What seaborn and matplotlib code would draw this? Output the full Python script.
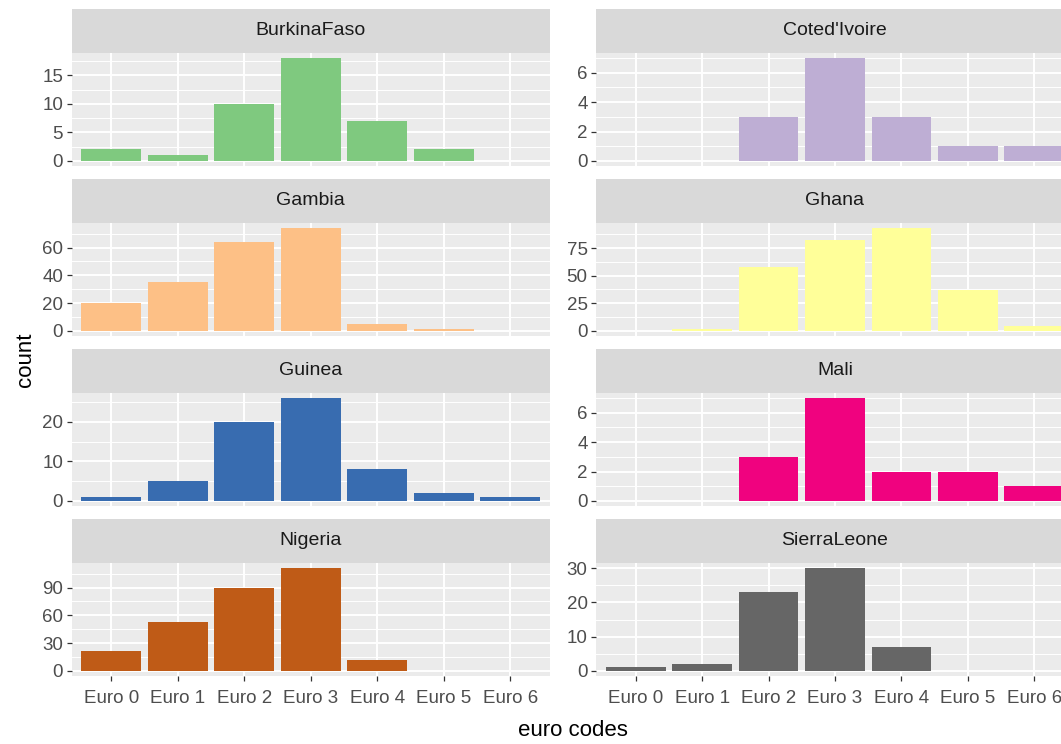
import numpy as np
import pandas as pd
import matplotlib
matplotlib.use("Agg")
import matplotlib.pyplot as plt
from matplotlib.ticker import FixedLocator
import seaborn as sns

# Counts of vehicles per euro emission code, by country
codes = ["Euro 0", "Euro 1", "Euro 2", "Euro 3", "Euro 4", "Euro 5", "Euro 6"]
countries = ["BurkinaFaso", "Coted'Ivoire", "Gambia", "Ghana",
             "Guinea", "Mali", "Nigeria", "SierraLeone"]

burkina_faso = [2, 1, 10, 18, 7, 2, 0]
cote_divoire = [0, 0, 3, 7, 3, 1, 1]
gambia = [20, 35, 64, 74, 5, 1, 0]
ghana = [0, 2, 58, 82, 93, 37, 4]
guinea = [1, 5, 20, 26, 8, 2, 1]
mali = [0, 0, 3, 7, 2, 2, 1]
nigeria = [21, 53, 90, 111, 12, 0, 0]
sierra_leone = [1, 2, 23, 30, 7, 0, 0]

series = [burkina_faso, cote_divoire, gambia, ghana,
          guinea, mali, nigeria, sierra_leone]

# y breaks per facet (free scales)
major_breaks = [
    [0, 5, 10, 15],
    [0, 2, 4, 6],
    [0, 20, 40, 60],
    [0, 25, 50, 75],
    [0, 10, 20],
    [0, 2, 4, 6],
    [0, 30, 60, 90],
    [0, 10, 20, 30],
]

df = pd.DataFrame({
    "country": np.repeat(countries, len(codes)),
    "code": codes * len(countries),
    "count": np.concatenate(series),
})

palette = sns.color_palette("Accent", len(countries))

plt.rcParams["font.family"] = ["Liberation Sans", "DejaVu Sans"]

W, H = 1061, 744
fig = plt.figure(figsize=(W / 100, H / 100), dpi=100)

PANEL_BG = "#EBEBEB"
STRIP_BG = "#D9D9D9"
TICK_TXT = "#4D4D4D"
TICK_LINE = "#333333"

# panel columns in pixels; the right column runs past the figure edge
col_x = [(71.5, 550.0), (596.0, 1074.0)]


def px_rect(x0, y0, x1, y1):
    return [x0 / W, 1 - y1 / H, (x1 - x0) / W, (y1 - y0) / H]


for i, country in enumerate(countries):
    r, c = divmod(i, 2)
    x0, x1 = col_x[c]
    strip_top = 8.5 + 170 * r
    panel_top = 53.0 + 170 * r
    panel_bot = 166.0 + 170 * r

    ax = fig.add_axes(px_rect(x0, panel_top, x1, panel_bot))
    ax.set_facecolor(PANEL_BG)
    sub = df[df["country"] == country]
    sns.barplot(data=sub, x="code", y="count", order=codes, color=palette[i],
                saturation=1, width=0.9, linewidth=0, ax=ax)

    ymax = max(series[i])
    ax.set_ylim(-0.05 * ymax, 1.05 * ymax)
    ax.set_xlim(-0.6, len(codes) - 0.4)

    majors = major_breaks[i]
    step = majors[1] - majors[0]
    minors = [m + step / 2 for m in range(-step, int(1.05 * ymax) + step, step)]
    minors = [m for m in minors if -0.05 * ymax < m < 1.05 * ymax]
    ax.yaxis.set_major_locator(FixedLocator(majors))
    ax.yaxis.set_minor_locator(FixedLocator(minors))

    ax.set_axisbelow(True)
    ax.grid(which="major", color="white", linewidth=1.4)
    ax.grid(which="minor", axis="y", color="white", linewidth=0.7)
    for s in ax.spines.values():
        s.set_visible(False)

    ax.set_xlabel("")
    ax.set_ylabel("")
    ax.tick_params(axis="y", which="major", length=3.6, width=0.9,
                   color=TICK_LINE, labelcolor=TICK_TXT, labelsize=13.5, pad=2.5)
    ax.tick_params(axis="y", which="minor", length=0)
    if r == 3:
        ax.tick_params(axis="x", length=3.6, width=0.9, color=TICK_LINE,
                       labelcolor=TICK_TXT, labelsize=13.5, pad=6.5)
    else:
        ax.tick_params(axis="x", length=0, labelbottom=False)

    # facet strip above the panel
    sax = fig.add_axes(px_rect(x0, strip_top, x1, panel_top))
    sax.set_facecolor(STRIP_BG)
    sax.set_xticks([])
    sax.set_yticks([])
    for s in sax.spines.values():
        s.set_visible(False)
    sax.text(0.5, 0.5, country, transform=sax.transAxes,
             ha="center", va="center", fontsize=14, color="#1A1A1A")

fig.text(572.5 / W, 1 - 731 / H, "euro codes", ha="center", va="center",
         fontsize=16, color="black")
fig.text(25 / W, 1 - 360 / H, "count", ha="center", va="center",
         rotation=90, fontsize=16, color="black")

fig.savefig("out.png", dpi=100, facecolor="white")
